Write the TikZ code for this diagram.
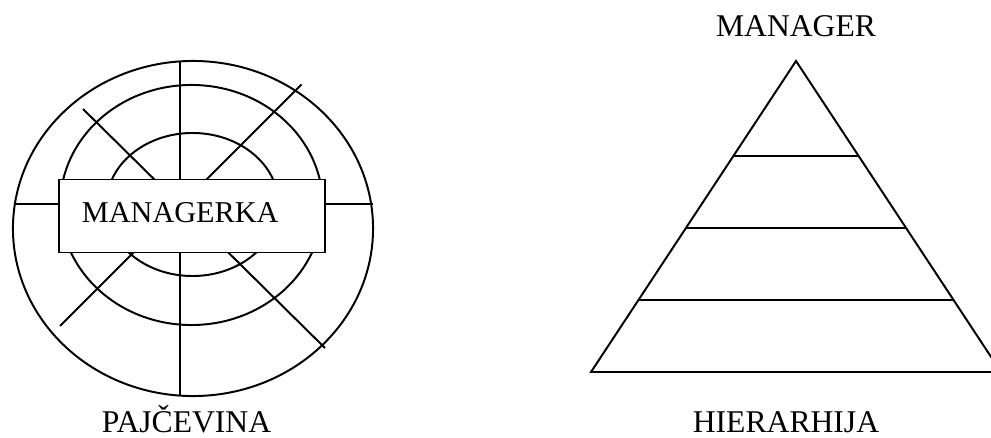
\documentclass[tikz,border=0pt]{standalone}
\usepackage{fontspec}
\setmainfont{Liberation Serif}
\usetikzlibrary{positioning,calc}

\begin{document}
\begin{tikzpicture}[x=0.025cm, y=-0.025cm, line width=1.4pt]
\tikzstyle{lbl} = [inner sep=0pt, font=\fontsize{22.5}{26}\selectfont];
\tikzstyle{layer} = [line width=1.4pt];

\clip (0,0) rectangle (991,438);

\draw (193,228.5) ellipse [x radius=4.5cm, y radius=4.1875cm];
\draw (191.5,205) ellipse [x radius=3.28cm, y radius=3cm];
\draw (192.5,204.5) ellipse [x radius=2.15cm, y radius=1.7875cm];

\coordinate (top) at (180,61.5);
\coordinate (bot) at (180,396);
\coordinate (west) at (14,204);
\coordinate (east) at (373,204);
\coordinate (ul) at (83,109);
\coordinate (lr) at (325,348);
\coordinate (ur) at (301.5,84.5);
\coordinate (ll) at (60,326);

\draw (top) -- (bot);
\draw (west) -- (east);
\draw (ul) -- (lr);
\draw (ur) -- (ll);

\node (managerka) [lbl, font=\fontsize{21.5}{26}\selectfont, draw, fill=white, minimum width=6.65cm, minimum height=1.825cm, text width=5.5cm, align=left, inner xsep=0.575cm, text depth=0.2cm] at (192,216) {MANAGERKA};

\node (pajcevina) [lbl, anchor=base] at (186.5,432.5) {PAJČEVINA};

\coordinate (apex) at (796,61);
\coordinate (left) at (591,372);
\coordinate (right) at (1001,372);
\draw (apex) -- (left) -- (right) -- cycle;
\foreach \t in {95,167,239}
  \draw [layer] ($(apex)!\t/311!(left)$) -- ($(apex)!\t/311!(right)$);

\node (manager) [lbl, above=0.575cm of apex] {MANAGER};
\node (hierarhija) [lbl, anchor=base] at (786,432) {HIERARHIJA};
\end{tikzpicture}
\end{document}
